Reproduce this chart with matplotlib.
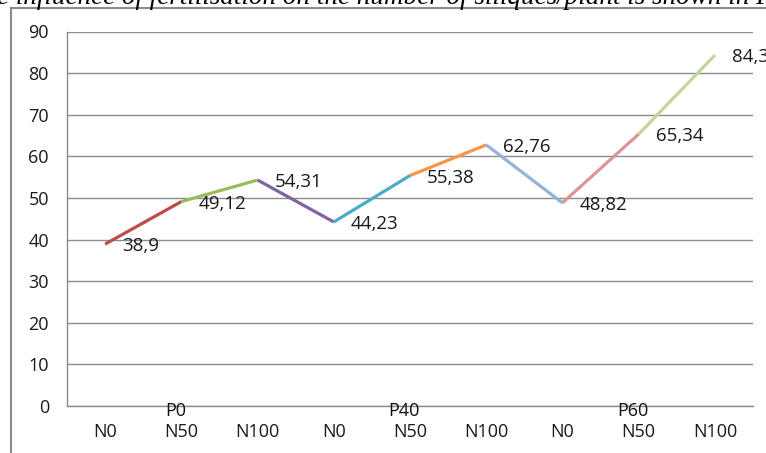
import matplotlib
matplotlib.use('Agg')
from matplotlib import pyplot as plt
from matplotlib.lines import Line2D

# data
groups = ['P0', 'P40', 'P60']
doses = ['N0', 'N50', 'N100']
values = [38.9, 49.12, 54.31, 44.23, 55.38, 62.76, 48.82, 65.34, 84.31]
seg_colors = ['#BE4B48', '#9BBB59', '#8064A2', '#4BACC6',
              '#F79646', '#95B3D7', '#D99694', '#C3D69B']

plt.rcParams['font.family'] = ['Open Sans', 'DejaVu Sans']

fig = plt.figure(figsize=(7.66, 4.53), dpi=100)
ax = fig.add_axes([67/766, 1-406/453, (753-67)/766, (406-31.5)/453])

x = list(range(len(values)))
for i in range(len(values) - 1):
    ax.plot(x[i:i+2], values[i:i+2], color=seg_colors[i], lw=2.3,
            solid_capstyle='butt')

# value labels, decimal comma
for xi, v in zip(x, values):
    ax.annotate(f'{v:g}'.replace('.', ','), xy=(xi, v), xytext=(17, -2),
                textcoords='offset pixels', ha='left', va='center',
                fontsize=13.5, color='#1a1a1a')

ax.set_xlim(-0.5, 8.5)
ax.set_ylim(0, 90)
ax.set_yticks(range(0, 91, 10))
ax.set_xticks(x, doses * len(groups))
ax.tick_params(axis='both', length=0, labelsize=13, colors='#1a1a1a')
ax.tick_params(axis='x', pad=12)
ax.tick_params(axis='y', pad=13)
ax.grid(axis='y', color='#8c8c8c', lw=1)
ax.set_axisbelow(True)
for s in ['top', 'right']:
    ax.spines[s].set_visible(False)
for s in ['left', 'bottom']:
    ax.spines[s].set_color('#8c8c8c')
    ax.spines[s].set_linewidth(1)

# group labels over the middle category of each group
for gi, g in enumerate(groups):
    ax.annotate(g, xy=(gi * 3 + 1, 0), xycoords=('data', 'axes fraction'),
                xytext=(-6, -5), textcoords='offset pixels',
                ha='center', va='center', fontsize=13, color='#111111')

# outer chart frame, cut off at right and bottom
fig.add_artist(Line2D([11/766, 11/766], [0, 1-8/453], color='#8c8c8c', lw=1.5))
fig.add_artist(Line2D([11/766, 1], [1-8/453, 1-8/453], color='#8c8c8c', lw=1.5))

# surrounding document text, cut off at the top
fig.text(-0.004, 1-3.5/453, 'e influence of fertilisation on the number of siliques/plant is shown in F',
         family='Liberation Serif', style='italic', fontsize=19.5, va='baseline',
         ha='left', color='black')

fig.savefig('out.png', dpi=100)
